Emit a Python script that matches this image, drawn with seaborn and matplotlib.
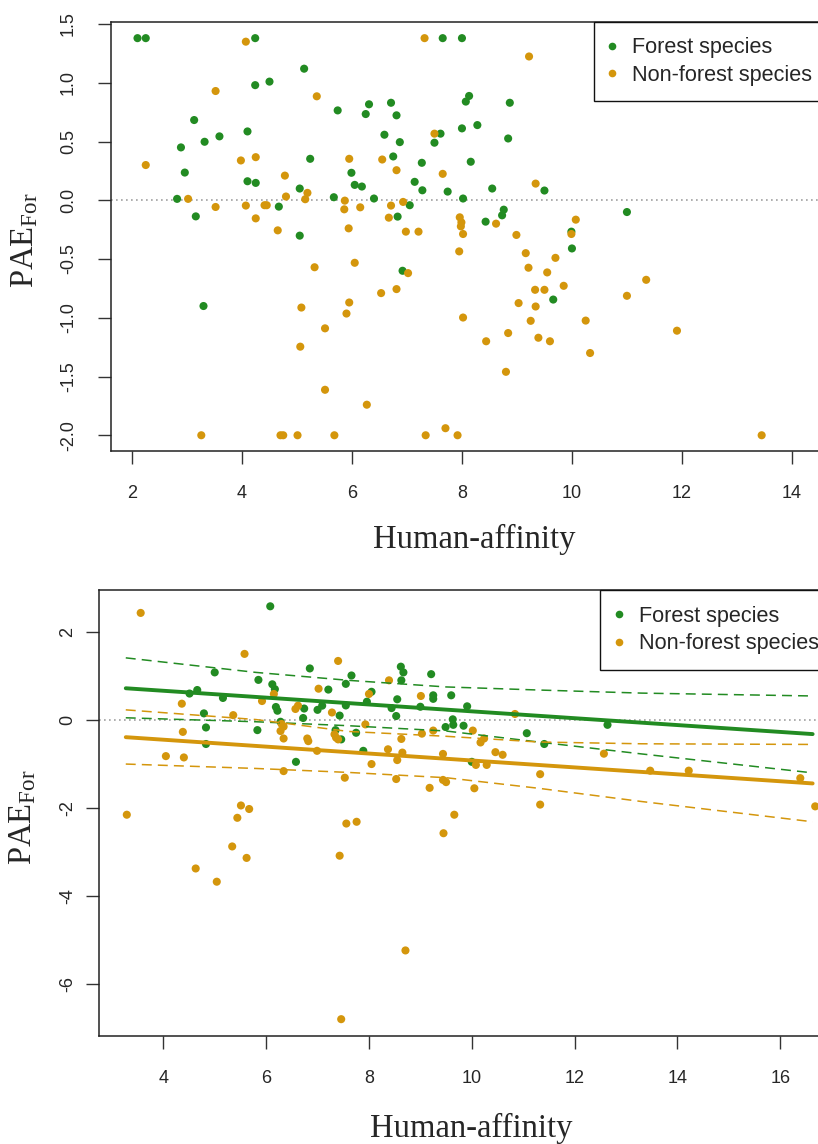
import numpy as np
import pandas as pd
import matplotlib
matplotlib.use("Agg")
import matplotlib.pyplot as plt
from matplotlib.lines import Line2D
import seaborn as sns

# %%
# top panel: forest species
top_for_x = [2.10, 2.25, 4.24, 7.65, 8.00, 5.13, 4.24, 4.50, 5.74, 6.31, 6.25, 6.71, 6.81,
             8.13, 8.07, 8.87, 3.13, 2.89, 3.32, 3.59, 4.10, 6.59, 6.87, 7.61, 7.50,
             8.00, 8.28, 8.84, 5.24, 6.75, 7.27, 8.16, 2.96, 5.99, 6.05, 6.18, 4.10, 4.25, 5.05,
             5.67, 6.40, 7.14, 7.28, 7.74, 8.55, 9.50, 8.02, 2.82, 4.67, 7.05,
             3.16, 6.83, 5.05, 11.00, 8.76, 8.73, 8.43, 9.99, 10.00, 6.92, 3.30, 9.66]
top_for_y = [1.38, 1.38, 1.38, 1.38, 1.38, 1.12, 0.98, 1.01, 0.765, 0.817, 0.734, 0.83, 0.723,
             0.888, 0.84, 0.83, 0.683, 0.45, 0.498, 0.544, 0.586, 0.558, 0.495, 0.567, 0.49,
             0.612, 0.64, 0.526, 0.353, 0.373, 0.319, 0.328, 0.236, 0.234, 0.131, 0.117, 0.162, 0.148, 0.10,
             0.026, 0.015, 0.157, 0.085, 0.074, 0.10, 0.083, 0.015, 0.012, -0.054, -0.042,
             -0.137, -0.139, -0.301, -0.10, -0.08, -0.128, -0.182, -0.267, -0.41, -0.60, -0.90, -0.845]

# top panel: non-forest species
top_non_x = [4.07, 7.32, 9.22, 3.52, 5.36, 7.50,
             2.25, 3.98, 4.25, 5.95, 6.55, 6.81, 7.65, 9.34,
             4.78, 5.19, 4.80, 5.15, 3.02,
             3.52, 4.07, 4.41, 4.45, 5.87, 5.86, 6.15, 6.71, 6.93,
             4.25, 6.67, 4.65, 5.94, 6.98, 7.21,
             7.96, 7.99, 7.98, 8.02, 8.62, 8.99, 10.07, 9.99,
             7.95, 5.32, 6.05, 7.02, 6.53, 6.81, 5.08, 5.95, 5.90,
             5.51, 5.06, 5.51, 6.27,
             3.26, 4.70, 4.75, 5.01, 5.68, 7.34, 7.70, 7.92, 13.45,
             9.16, 9.70, 9.21, 9.55, 11.35, 9.85, 9.33, 9.50,
             11.00, 9.03, 9.34, 8.02, 10.25, 9.25, 11.91, 8.44, 8.84, 9.39, 9.60, 10.33, 8.80]
top_non_y = [1.35, 1.38, 1.224, 0.93, 0.885, 0.567,
             0.30, 0.339, 0.367, 0.353, 0.347, 0.256, 0.225, 0.142,
             0.21, 0.063, 0.032, 0.009, 0.012,
             -0.057, -0.045, -0.042, -0.042, -0.003, -0.077, -0.06, -0.045, -0.014,
             -0.154, -0.148, -0.256, -0.239, -0.267, -0.267,
             -0.145, -0.188, -0.222, -0.287, -0.199, -0.295, -0.165, -0.287,
             -0.435, -0.57, -0.532, -0.62, -0.79, -0.756, -0.913, -0.87, -0.964,
             -1.09, -1.246, -1.613, -1.74,
             -2.0, -2.0, -2.0, -2.0, -2.0, -2.0, -1.94, -2.0, -2.0,
             -0.45, -0.49, -0.574, -0.614, -0.677, -0.728, -0.762, -0.762,
             -0.813, -0.875, -0.904, -0.998, -1.024, -1.026, -1.11, -1.2, -1.13, -1.17, -1.2, -1.30, -1.46]

# bottom panel: forest species
bot_for_x = [6.08, 6.85, 5.00, 8.62, 8.67, 9.21, 7.66, 7.55, 8.63, 5.85, 6.12, 6.17, 4.66, 4.51,
             5.16, 7.21, 8.05, 9.25, 9.25, 8.55, 7.96, 7.55, 6.19, 6.22, 6.74, 7.00, 7.09, 8.44,
             9.00, 4.79, 7.43, 6.72, 8.53, 6.28, 4.83, 7.35, 5.83, 7.75, 9.49, 7.46, 4.83, 7.89,
             6.58, 9.60, 9.91, 9.63, 9.64, 9.84, 12.64, 11.07, 11.41, 10.00]
bot_for_y = [2.58, 1.17, 1.08, 1.21, 1.08, 1.04, 1.01, 0.82, 0.90, 0.91, 0.81, 0.70, 0.68, 0.60,
             0.50, 0.69, 0.64, 0.56, 0.48, 0.47, 0.415, 0.33, 0.295, 0.21, 0.26, 0.23, 0.325, 0.27,
             0.30, 0.15, 0.10, 0.045, 0.09, -0.04, -0.17, -0.23, -0.23, -0.29, -0.16, -0.44, -0.545, -0.70,
             -0.95, 0.56, 0.31, 0.015, -0.11, -0.13, -0.11, -0.30, -0.545, -0.95]

# bottom panel: non-forest species
bot_non_x = [3.56, 5.58, 7.40, 8.39, 6.15, 7.02, 8.00, 9.01, 5.92, 4.36, 6.62, 6.57, 7.28, 5.36,
             6.30, 6.34, 6.28, 7.93, 4.38, 7.33, 7.36, 9.03, 9.25, 7.40, 6.34, 6.80, 6.82, 8.63,
             6.99, 8.37, 8.65, 8.55, 9.44, 4.05, 4.40, 8.05, 6.34, 7.53, 8.53, 9.18, 9.44, 9.50,
             3.29, 5.51, 5.67, 5.44, 7.56, 7.76, 9.45, 5.34, 5.62, 4.63, 5.04, 7.43, 8.71, 7.46,
             10.84, 10.02, 10.24, 10.17, 10.46, 10.60, 12.57, 10.08, 10.29, 13.47, 14.22, 16.39,
             11.33, 10.05, 11.33, 16.68, 9.66]
bot_non_y = [2.43, 1.50, 1.34, 0.90, 0.59, 0.71, 0.59, 0.545, 0.43, 0.37, 0.325, 0.25, 0.17, 0.11,
             -0.09, -0.15, -0.25, -0.10, -0.27, -0.325, -0.40, -0.31, -0.24, -0.44, -0.42, -0.42, -0.48, -0.43,
             -0.70, -0.665, -0.74, -0.91, -0.77, -0.82, -0.85, -1.00, -1.16, -1.31, -1.34, -1.54, -1.36, -1.41,
             -2.15, -1.94, -2.02, -2.22, -2.35, -2.31, -2.57, -2.87, -3.13, -3.37, -3.67, -3.08, -5.23, -6.79,
             0.136, -0.24, -0.42, -0.51, -0.73, -0.79, -0.765, -1.02, -1.02, -1.15, -1.15, -1.32,
             -1.23, -1.55, -1.92, -1.96, -2.15]

# fitted lines and confidence bands (bottom panel)
fit_x = [3.27, 16.63]
fit_for = [0.72, -0.32]
fit_non = [-0.39, -1.44]
band_x = [3.27, 5.8, 7.6, 9.5, 11.3, 13.3, 16.63]
band_for_hi = [1.41, 1.08, 0.90, 0.75, 0.68, 0.61, 0.545]
band_for_lo = [0.05, -0.04, -0.13, -0.25, -0.50, -0.77, -1.20]
band_non_hi = [0.23, 0.01, -0.26, -0.37, -0.50, -0.54, -0.555]
band_non_lo = [-1.00, -1.10, -1.19, -1.31, -1.55, -1.85, -2.31]

groups = ["Forest species", "Non-forest species"]
green = "#228B22"
orange = "#D4960C"
palette = {groups[0]: green, groups[1]: orange}

top_df = pd.concat([
    pd.DataFrame({"ha": top_for_x, "pae": top_for_y, "group": groups[0]}),
    pd.DataFrame({"ha": top_non_x, "pae": top_non_y, "group": groups[1]}),
])
bot_df = pd.concat([
    pd.DataFrame({"ha": bot_for_x, "pae": bot_for_y, "group": groups[0]}),
    pd.DataFrame({"ha": bot_non_x, "pae": bot_non_y, "group": groups[1]}),
])

# %%
sns.set_style("ticks")
plt.rcParams["font.family"] = ["Liberation Sans", "DejaVu Sans"]
plt.rcParams["axes.unicode_minus"] = False
plt.rcParams["mathtext.fontset"] = "custom"
plt.rcParams["mathtext.rm"] = "Liberation Serif"
plt.rcParams["mathtext.it"] = "Liberation Serif:italic"

fig = plt.figure(figsize=(8.18, 11.44), dpi=100)
W, H = 818, 1144
ax1 = fig.add_axes([111 / W, 1 - 451 / H, (837 - 111) / W, (451 - 21.7) / H])
ax2 = fig.add_axes([99.3 / W, 1 - 1035.7 / H, (844 - 99.3) / W, (1035.7 - 590) / H])

for ax, df in [(ax1, top_df), (ax2, bot_df)]:
    ax.axhline(0, color="#a0a0a0", ls=(0, (1, 2)), lw=1.2, zorder=1)
    sns.scatterplot(data=df, x="ha", y="pae", hue="group", palette=palette,
                    s=34, edgecolor="none", linewidth=0, legend=False, ax=ax, zorder=3)

# regression lines + bands
sns.lineplot(x=fit_x, y=fit_for, color=green, lw=2.8, ax=ax2, zorder=4)
sns.lineplot(x=fit_x, y=fit_non, color=orange, lw=2.8, ax=ax2, zorder=4)
for yy, c in [(band_for_hi, green), (band_for_lo, green), (band_non_hi, orange), (band_non_lo, orange)]:
    sns.lineplot(x=band_x, y=yy, color=c, lw=1.1, ax=ax2, zorder=4,
                 linestyle=(0, (6.5, 4)))

ax1.set_xlim(1.618, 14.82)
ax1.set_ylim(-2.134, 1.52)
ax1.set_xticks([2, 4, 6, 8, 10, 12, 14])
ax1.set_yticks([-2.0, -1.5, -1.0, -0.5, 0.0, 0.5, 1.0, 1.5])
ax1.set_yticklabels([f"{v:.1f}" for v in [-2.0, -1.5, -1.0, -0.5, 0.0, 0.5, 1.0, 1.5]])

ax2.set_xlim(2.755, 17.24)
ax2.set_ylim(-7.165, 2.95)
ax2.set_xticks([4, 6, 8, 10, 12, 14, 16])
ax2.set_yticks([-6, -4, -2, 0, 2])

handles = [Line2D([], [], marker="o", ls="", color=green, markersize=5.5, markeredgewidth=0),
           Line2D([], [], marker="o", ls="", color=orange, markersize=5.5, markeredgewidth=0)]

# per panel: label x, xlabel pad, ytick pad, legend left edge (axes coords)
settings = [(ax1, -0.098, 16, 15, 0.665), (ax2, -0.082, 19, 7, 0.673)]
for ax, lx, xpad, ypad, leg_x0 in settings:
    for sp in ax.spines.values():
        sp.set_linewidth(1.1)
        sp.set_color("#222222")
    ax.tick_params(axis="both", length=9.5, width=1.0, color="#333333", labelsize=13)
    ax.tick_params(axis="x", pad=15)
    ax.tick_params(axis="y", labelrotation=90, pad=ypad)
    for t in ax.get_yticklabels():
        t.set_va("center")
    ax.set_xlabel("Human-affinity", family="Liberation Serif", fontsize=23.5, labelpad=xpad)
    ax.set_ylabel(r"PAE$_{\mathrm{For}}$", family="Liberation Serif", fontsize=23.5)
    ax.yaxis.set_label_coords(lx, 0.49)
    leg = ax.legend(handles, groups, loc="upper right",
                    bbox_to_anchor=(leg_x0, 0, 1 - leg_x0, 1), mode="expand",
                    borderaxespad=0, fontsize=15.6, frameon=True, fancybox=False,
                    framealpha=1, edgecolor="#111111", handlelength=0.24,
                    handletextpad=0.8, labelspacing=0.3, borderpad=0.72)
    leg.get_frame().set_linewidth(1.0)

fig.savefig("out.png", dpi=100)
